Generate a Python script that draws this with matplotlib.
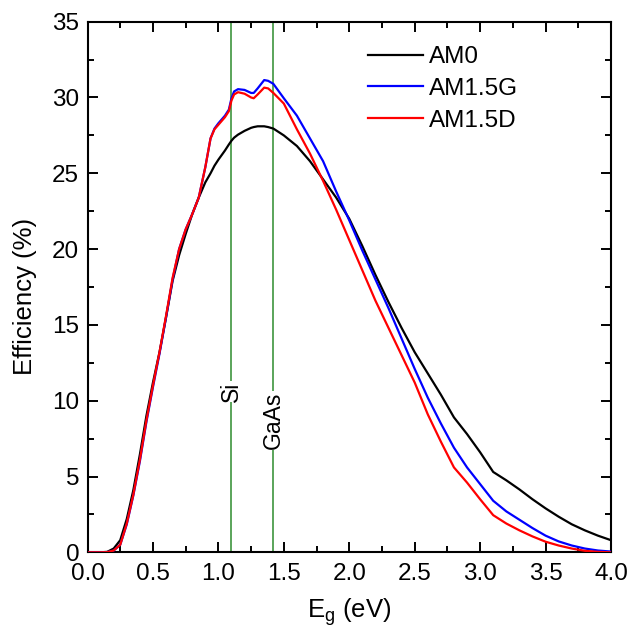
import matplotlib
matplotlib.use("Agg")
import matplotlib.pyplot as plt
from matplotlib.ticker import MultipleLocator, FormatStrFormatter

plt.rcParams['font.family'] = ['Liberation Sans', 'DejaVu Sans']
plt.rcParams['mathtext.default'] = 'regular'

# Band gap grid (eV)
eg = [0.0, 0.1, 0.15, 0.2, 0.25, 0.3, 0.35, 0.4, 0.45, 0.5, 0.55, 0.6, 0.65, 0.7,
      0.75, 0.8, 0.85, 0.9, 0.94, 0.97, 1.0, 1.05, 1.08, 1.1, 1.12, 1.15, 1.2, 1.25,
      1.27, 1.3, 1.35, 1.38, 1.42, 1.5, 1.6, 1.7, 1.8, 1.9, 2.0, 2.1, 2.2, 2.3, 2.4,
      2.5, 2.6, 2.7, 2.8, 2.9, 3.0, 3.1, 3.2, 3.3, 3.4, 3.5, 3.6, 3.7, 3.8, 3.9, 4.0]

am0 = [0.0, 0.0, 0.03, 0.25, 0.8, 2.2, 4.1, 6.45, 9.0, 11.2, 13.2, 15.5, 17.9, 19.6,
       21.0, 22.3, 23.4, 24.4, 25.0, 25.5, 25.9, 26.5, 26.9, 27.15, 27.35, 27.55, 27.8, 28.0,
       28.05, 28.1, 28.1, 28.05, 27.95, 27.5, 26.8, 25.8, 24.6, 23.4, 22.0, 20.2, 18.3, 16.5, 14.8,
       13.2, 11.8, 10.4, 8.9, 7.8, 6.6, 5.3, 4.75, 4.15, 3.5, 2.9, 2.35, 1.85, 1.45, 1.1, 0.8]

am15g = [0.0, 0.0, 0.01, 0.12, 0.5, 1.85, 3.75, 6.0, 8.6, 10.9, 13.1, 15.5, 18.0, 20.0,
         21.3, 22.3, 23.4, 25.4, 27.3, 27.95, 28.3, 28.8, 29.2, 29.95, 30.4, 30.55, 30.5, 30.3,
         30.3, 30.6, 31.15, 31.1, 30.9, 29.95, 28.8, 27.3, 25.8, 23.8, 21.9, 19.9, 18.0, 16.1, 14.1,
         12.1, 10.2, 8.5, 6.9, 5.6, 4.5, 3.4, 2.7, 2.15, 1.6, 1.1, 0.72, 0.45, 0.25, 0.12, 0.05]

am15d = [0.0, 0.0, 0.01, 0.12, 0.5, 1.9, 3.8, 6.1, 8.7, 11.0, 13.2, 15.6, 18.1, 20.0,
         21.3, 22.3, 23.4, 25.4, 27.3, 27.9, 28.2, 28.7, 29.1, 29.8, 30.2, 30.35, 30.25, 30.0,
         29.95, 30.2, 30.65, 30.6, 30.3, 29.6, 27.9, 26.3, 24.5, 22.6, 20.6, 18.6, 16.6, 14.8, 13.0,
         11.2, 9.1, 7.3, 5.6, 4.6, 3.5, 2.45, 1.9, 1.45, 1.05, 0.7, 0.45, 0.25, 0.1, 0.03, 0.0]

materials = ['Si', 'GaAs']
material_gaps = [1.10, 1.42]
label_y = [10.6, 8.7]

fig = plt.figure(figsize=(6.31, 6.27), dpi=100)
ax = fig.add_axes([0.1387, 0.1191, 0.8296, 0.8463])

for x, name, ly in zip(material_gaps, materials, label_y):
    ax.axvline(x, color='#2e8b2e', lw=1.1, zorder=1)
    ax.text(x, ly, name, rotation=90, ha='center', va='center', fontsize=16.5,
            bbox=dict(facecolor='white', edgecolor='none', pad=0.5), zorder=2)

ax.plot(eg, am0, color='black', lw=1.6, label='AM0', zorder=3)
ax.plot(eg, am15g, color='#0000ff', lw=1.6, label='AM1.5G', zorder=3)
ax.plot(eg, am15d, color='#ff0000', lw=1.6, label='AM1.5D', zorder=4)

ax.set_xlim(0, 4)
ax.set_ylim(0, 35)
ax.xaxis.set_major_locator(MultipleLocator(0.5))
ax.xaxis.set_minor_locator(MultipleLocator(0.25))
ax.yaxis.set_major_locator(MultipleLocator(5))
ax.yaxis.set_minor_locator(MultipleLocator(2.5))
ax.xaxis.set_major_formatter(FormatStrFormatter('%.1f'))
ax.tick_params(which='both', direction='in', top=True, right=True, width=1.4,
               labelsize=17.5)
ax.tick_params(axis='x', which='major', pad=8)
ax.tick_params(axis='y', which='major', pad=6)
ax.tick_params(which='major', length=7)
ax.tick_params(which='minor', length=4.5)
for s in ax.spines.values():
    s.set_linewidth(1.5)

ax.set_xlabel('E$_g$ (eV)', fontsize=18.5, labelpad=8)
ax.set_ylabel('Efficiency (%)', fontsize=18.5)
ax.yaxis.set_label_coords(-0.097, 0.482)

ax.legend(loc='upper left', frameon=False, fontsize=17.5, handlelength=2.26,
          handletextpad=0.25, labelspacing=0.4, bbox_to_anchor=(0.536, 0.954),
          borderaxespad=0, borderpad=0)

fig.savefig('out.png', dpi=100)
